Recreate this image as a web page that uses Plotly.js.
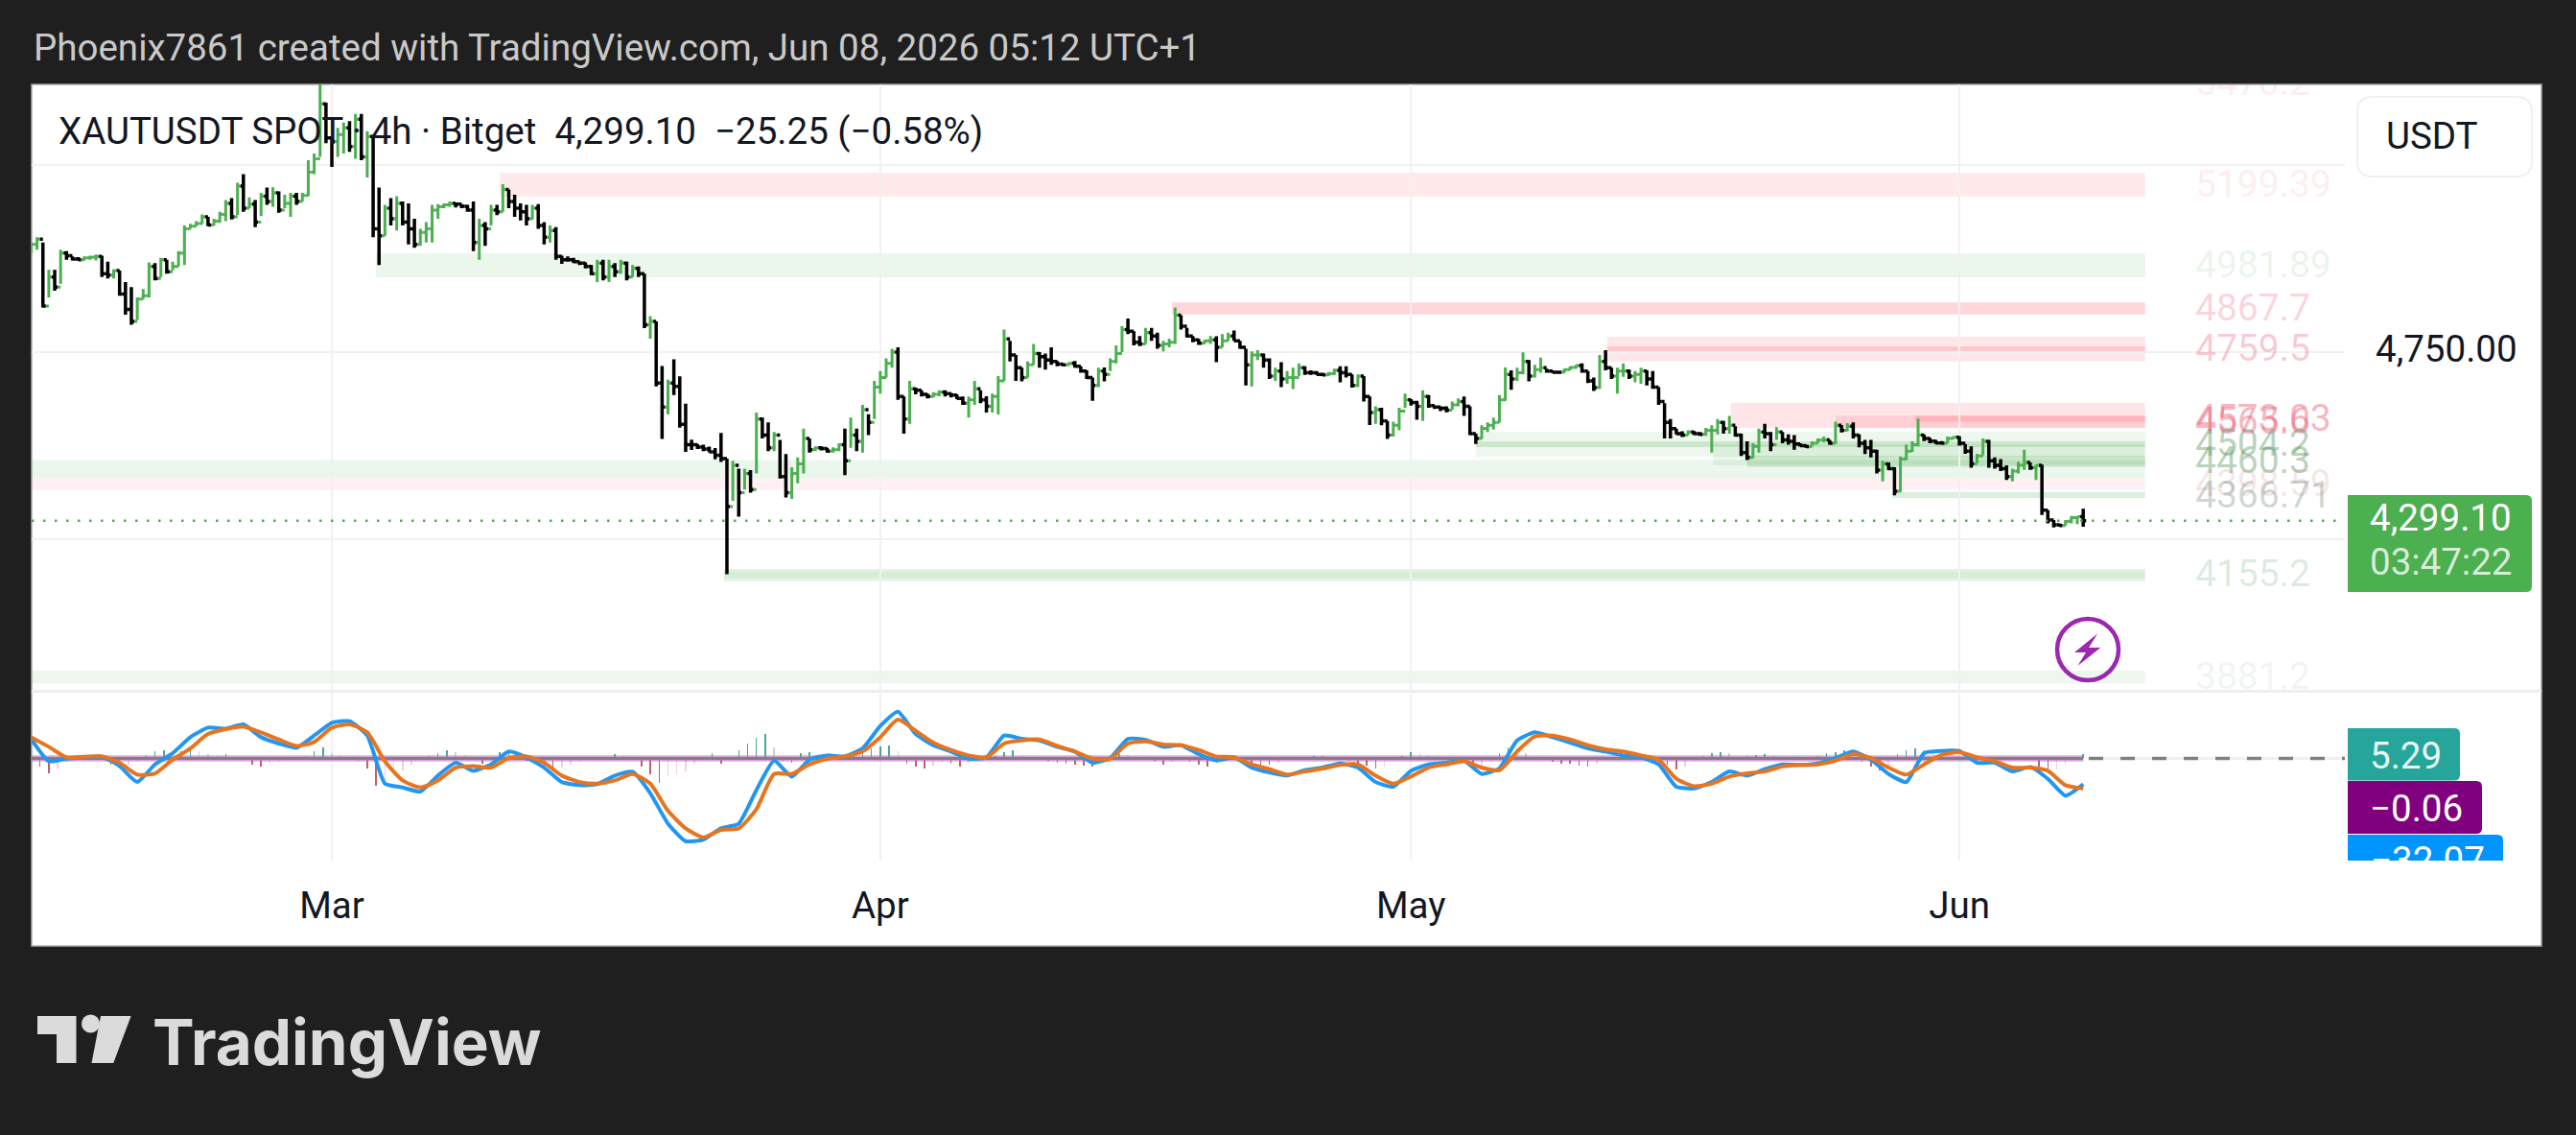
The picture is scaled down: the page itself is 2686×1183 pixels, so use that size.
<!DOCTYPE html>
<html>
<head>
<meta charset="utf-8">
<script src="https://cdn.plot.ly/plotly-3.0.1.min.js"></script>
<style>html,body{margin:0;padding:0;background:#1f1f1f;}#c{width:2686px;height:1183px;}</style>
</head>
<body>
<div id="c"></div>
<script>
// ---- price bars (8-hour steps from 12 Feb 2026) ----
const firstBarTime = Date.UTC(2026,1,12,0,0);
const firstOpen = 5020;
const high = [
5043,5057,5043,4970,4970,5024,5020,5006,5004,5006,
5008,5011,5008,4992,4971,4968,4937,4924,4896,4919,
4990,4988,5002,4997,4992,5020,5089,5093,5100,5118,
5112,5107,5125,5157,5162,5203,5226,5164,5157,5176,
5190,5191,5180,5171,5176,5176,5176,5263,5281,5480,
5417,5327,5350,5364,5368,5387,5387,5341,5327,5190,
5144,5162,5167,5153,5148,5107,5080,5098,5144,5146,
5148,5153,5149,5146,5144,5153,5107,5098,5144,5144,
5199,5185,5171,5148,5144,5144,5146,5098,5089,5084,
5008,5006,5002,4992,4990,4983,4997,4997,4997,4988,
4997,4992,4983,4979,4960,4846,4832,4713,4676,4731,
4685,4612,4516,4504,4502,4497,4493,4534,4465,
4459,4438,4438,4434,4588,4575,4562,4536,4515,4477,
4442,4468,4545,4519,4498,4498,4494,4495,4506,4545,
4575,4545,4609,4584,4673,4699,4733,4759,4763,4631,
4673,4655,4648,4639,4643,4648,4648,4641,4637,4631,
4631,4673,4648,4632,4639,4686,4810,4780,4742,4708,
4725,4772,4750,4746,4763,4726,4720,4723,4726,4712,
4701,4682,4708,4709,4733,4768,4819,4840,4806,4793,
4815,4815,4802,4780,4786,4869,4849,4815,4793,4785,
4783,4793,4792,4798,4802,4808,4780,4759,4752,4755,
4746,4733,4708,4723,4699,4708,4720,4712,4701,4699,
4695,4697,4706,4712,4712,4690,4690,4686,4631,4605,
4601,4566,4564,4601,4639,4624,4620,4648,4635,4607,
4605,4605,4618,4626,4631,4605,4532,4554,4562,4575,
4635,4709,4701,4708,4749,4729,4716,4735,4706,4701,
4699,4706,4712,4716,4720,4699,4682,4742,4755,4708,
4708,4720,4703,4699,4708,4701,4699,4656,4613,4571,
4545,4538,4541,4539,4536,4547,4554,4571,4566,4579,
4552,4532,4511,4506,4545,4558,4536,4549,4536,4530,
4528,4506,4502,4511,4519,4524,4515,4564,4555,4560,
4562,4530,4515,4515,4489,4459,4455,4442,4470,4502,
4511,4572,4530,4521,4515,4512,4524,4525,4525,4504,
4498,4478,4519,4515,4468,4464,4447,4438,4457,4489,
4455,4449,4449,4327,4301,4291,4301,4312,4310,4331];
const low = [
5015,5024,4869,4896,4914,4933,4997,4995,4995,4995,
4997,4995,4951,4947,4947,4901,4850,4823,4836,4892,
4896,4942,4951,4960,4969,4979,4983,5080,5087,5093,
5087,5089,5096,5100,5105,5116,5125,5135,5084,5114,
5144,5139,5123,5135,5112,5144,5153,5167,5226,5272,
5309,5245,5272,5281,5286,5267,5263,5217,5057,4983,
5061,5089,5075,5089,5038,5029,5034,5043,5043,5107,
5135,5139,5137,5135,5125,5020,4997,5034,5089,5116,
5125,5135,5112,5102,5089,5105,5080,5038,5043,4997,
4986,4992,4988,4983,4974,4956,4937,4942,4937,4951,
4960,4942,4951,4951,4814,4786,4658,4518,4584,4635,
4548,4483,4488,4491,4485,4482,4463,4456,4156,
4352,4310,4382,4374,4425,4519,4485,4485,4412,4361,
4357,4399,4425,4481,4485,4487,4481,4481,4485,4421,
4494,4485,4481,4528,4571,4639,4682,4708,4622,4532,
4558,4637,4631,4626,4629,4632,4631,4629,4624,4609,
4575,4609,4613,4588,4588,4583,4673,4725,4673,4672,
4682,4716,4708,4703,4716,4712,4712,4714,4708,4695,
4678,4620,4656,4672,4699,4720,4750,4798,4768,4766,
4772,4780,4759,4752,4763,4772,4810,4789,4776,4769,
4772,4772,4723,4763,4780,4780,4759,4661,4658,4729,
4708,4678,4673,4656,4665,4651,4686,4689,4689,4689,
4686,4686,4689,4669,4682,4655,4656,4618,4555,4558,
4554,4518,4524,4541,4601,4607,4569,4566,4601,4598,
4592,4589,4596,4605,4579,4528,4504,4518,4536,4543,
4562,4620,4649,4673,4690,4672,4682,4695,4695,4694,
4693,4694,4702,4706,4695,4667,4646,4652,4701,4678,
4639,4684,4678,4669,4665,4661,4652,4609,4519,4519,
4530,4523,4528,4528,4526,4526,4481,4530,4532,4532,
4524,4472,4461,4466,4481,4519,4485,4515,4506,4502,
4489,4497,4494,4497,4506,4509,4502,4504,4535,4538,
4519,4495,4477,4468,4425,4404,4434,4367,4376,4461,
4483,4498,4512,4506,4504,4504,4506,4518,4500,4478,
4441,4453,4474,4441,4438,4432,4408,4404,4425,4435,
4435,4408,4314,4292,4281,4283,4286,4292,4290,4283];
const close = [
5038,5052,4873,4951,4924,5015,5008,4999,4997,5002,
5004,5006,4960,4956,4968,4905,4864,4832,4892,4901,
4979,4947,4997,4965,4979,5015,5080,5087,5094,5112,
5090,5100,5118,5148,5112,5194,5135,5146,5098,5167,
5153,5176,5130,5148,5167,5153,5169,5231,5267,5414,
5323,5313,5332,5350,5300,5373,5272,5327,5080,5061,
5135,5107,5148,5098,5080,5038,5070,5080,5130,5139,
5144,5148,5146,5140,5130,5043,5089,5080,5130,5125,
5185,5153,5135,5125,5107,5135,5089,5057,5075,5006,
4997,4997,4992,4988,4979,4960,4988,4951,4979,4965,
4988,4951,4974,4960,4823,4832,4667,4603,4667,4658,
4557,4502,4502,4496,4491,4483,4474,4465,4337,
4447,4374,4425,4382,4571,4528,4494,4528,4417,4374,
4425,4451,4519,4489,4494,4492,4485,4489,4502,4459,
4528,4511,4596,4562,4656,4682,4720,4750,4631,4571,
4652,4648,4637,4631,4637,4643,4639,4635,4626,4613,
4622,4652,4622,4605,4631,4673,4785,4742,4708,4682,
4716,4746,4738,4729,4725,4718,4716,4720,4712,4699,
4682,4661,4699,4690,4725,4746,4810,4806,4776,4772,
4802,4793,4768,4772,4776,4849,4819,4793,4783,4774,
4780,4783,4763,4780,4793,4780,4763,4716,4742,4742,
4729,4686,4699,4678,4682,4682,4708,4695,4695,4690,
4689,4692,4701,4695,4690,4661,4686,4631,4588,4596,
4566,4528,4554,4592,4622,4615,4605,4631,4607,4603,
4600,4595,4609,4618,4605,4532,4519,4545,4554,4562,
4622,4690,4678,4695,4725,4686,4703,4708,4699,4696,
4696,4703,4709,4714,4699,4673,4655,4725,4708,4686,
4699,4699,4686,4690,4699,4678,4656,4618,4562,4545,
4532,4528,4536,4532,4530,4541,4541,4562,4545,4554,
4528,4481,4468,4498,4536,4532,4502,4536,4515,4511,
4504,4500,4497,4506,4515,4515,4506,4554,4541,4552,
4528,4506,4494,4485,4434,4451,4438,4378,4464,4485,
4502,4528,4519,4512,4507,4506,4519,4522,4506,4485,
4451,4472,4511,4459,4447,4438,4417,4432,4447,4455,
4441,4447,4327,4301,4288,4286,4297,4307,4310,4299.1];

// ---- MACD pane: lines read daily, histogram read every 12 hours ----
const macdBlue = [
24.3,-3.5,-0.3,1.3,2.1,-9.4,-29.3,-7.4,6.5,26.3,38.2,37,42.2,26.3,18.4,13.2,28.3,44.2,46.2,28.3,
-31.3,-36,-41.2,-21.3,-5.4,-15.4,-7.4,8.5,1.3,-11.4,-29.3,-33.2,-32,-21.3,-16.6,-43.2,-80.9,-102.7,-100.7,-86.8,
-80.9,-39.2,-2.7,-22.5,-1.5,3.7,2.5,12.4,40.2,58.1,30.3,16.4,8.5,-0.3,1.3,28.3,24.3,22.3,14.4,8.5,
-5.4,0.5,24.3,23.1,14.4,16.4,5.3,-2.7,1.3,-11.4,-17.4,-21.3,-14.6,-11.4,-6.2,-11.4,-29.3,-35.2,-15.4,-7.4,
-5.4,-2.7,-19.3,-12.2,22.3,32.3,26.3,19.6,12.4,8.5,3.7,1.3,-7.4,-35.2,-37.2,-29.3,-16.2,-21.3,-13.4,-7.4,
-8.2,-6.2,0.5,8.5,-1.5,-19.3,-29.3,6.5,9.3,9.3,-5.4,-5.4,-16.2,-10.6,-25.3,-46.3,-32.07];
const macdOrange = [
26.3,14.4,1.3,2.1,2.5,-5.4,-20.1,-18.5,-1.5,12.4,30.3,36.2,39.4,32.3,23.5,15.6,20.4,38.2,42.2,32.3,
-3.5,-27.3,-36,-27.3,-11.4,-9.4,-11.4,0.5,2.5,-5.4,-21.3,-29.3,-31.3,-27.3,-19.3,-31.3,-65,-86.8,-97.9,-88.8,
-86.8,-63,-19.3,-19.3,-7.4,-0.3,2.5,8.5,26.3,48.2,34.3,19.6,10.4,3.7,1.3,18.4,22.3,23.5,15.6,8.5,
-0.3,-0.3,18.4,21.2,17.2,16.4,10.4,2.5,1.3,-7.4,-13.4,-20.1,-16.2,-12.6,-8.2,-7.4,-21.3,-31.3,-22.5,-11.4,
-7.4,-3.5,-11.4,-14.6,8.5,27.1,28.3,23.5,16.4,11.2,8.5,3.7,-1.5,-25.3,-34.4,-31.3,-22.5,-18.5,-16.2,-9.8,
-8.2,-7.4,-2.7,5.3,0.5,-11.4,-20.1,-7.4,4.5,7.7,1.3,-3.5,-11.4,-11.4,-15.4,-33.2,-37.36];
const hist = [
-5,-10,-18,-12,-5,-1,1,1,-2,-8,-12,-8,-3,4,9,10,6,9,12,9,
5,3,5,3,-2,-8,-10,-8,-5,-1,1,3,9,14,6,3,2,-3,-12,-34,
-30,-22,-15,-8,-2,3,7,10,8,4,-1,-6,-2,8,10,4,-3,-5,-10,-14,
-11,-8,-4,-1,1,2,5,4,3,-10,-20,-30,-22,-20,-16,-6,2,6,-6,1,
10,18,26,30,14,-3,-5,6,8,5,3,2,3,6,10,12,15,16,9,-6,
-10,-12,-9,-5,-6,-10,-5,-1,0,3,8,10,4,2,0,-3,-5,-7,-8,-9,
-10,-4,2,5,4,1,-1,-3,-8,-4,-1,-4,-8,-10,-7,-2,-1,-3,-6,-8,
-8,-5,-2,1,2,3,3,2,1,-3,-6,-9,-12,-10,-3,3,8,7,4,2,
1,0,-3,-12,-10,-3,6,14,12,6,2,-2,-4,-6,-7,-9,-10,-6,-2,1,
2,1,1,-1,-3,-8,-14,-10,-4,3,6,8,7,3,3,4,5,4,3,1,
0,1,3,6,8,10,8,-4,-10,-15,-10,5,10,12,10,6,4,2,1,-2,
-6,-8,-6,-2,-1,1,1,-10,-18,-14,-8,-2,5.29];
const zeroLevel = -0.06;

// ---- supply / demand zones ----
const zoneStart = ["2026-03-10T12:00","2026-03-03T12:00","2026-04-17T12:00","2026-05-12T02:00","2026-05-12T02:00",
"2026-05-19T02:00","2026-05-25T00:00","2026-05-29T12:00","2026-05-04T16:00","2026-05-04T16:00",
"2026-05-18T02:00","2026-05-20T00:00","2026-02-12T00:00","2026-02-12T00:00","2026-05-28T05:00",
"2026-03-23T04:00","2026-03-23T04:00","2026-02-12T00:00"];
const zoneTop = [5230,5014,4883,4791,4765,4614,4580,4580,4537,4511,4503,4473,4461,4412,4376,4170,4162,3898];
const zoneBottom = [5166,4951,4851,4725,4751,4547,4547,4564,4470,4496,4447,4443,4412,4381,4360,4137,4146,3864];
const zoneKind = ["r","g","r","r","r","r","r","r","g","g","g","g","g","r","g","g","g","g"];
const zoneAlpha = [.13,.11,.24,.14,.22,.15,.15,.22,.10,.22,.10,.22,.11,.08,.20,.16,.08,.10];
const zoneEnd = "2026-06-11T12:00";

const levelLabels = ["5470.2","5199.39","4981.89","4867.7","4759.5","4573.03","4565.6","4504.2","4460.3","4398.59","4366.71","4155.2","3881.2"];
const levelPrices = [5470.2,5199.39,4981.89,4867.7,4759.5,4573.03,4565.6,4504.2,4460.3,4398.59,4366.71,4155.2,3881.2];
const levelColors = ["rgba(240,120,130,.13)","rgba(240,120,130,.14)","rgba(100,170,110,.13)","rgba(235,90,115,.27)","rgba(235,90,115,.33)",
"rgba(235,80,105,.42)","rgba(235,80,105,.42)","rgba(70,140,80,.38)","rgba(70,140,80,.38)","rgba(200,130,130,.20)","rgba(90,110,95,.28)","rgba(70,150,100,.20)","rgba(100,150,110,.10)"];

const lastPrice = 4299.10;
const monthTicks = ["2026-03-01","2026-04-01","2026-05-01","2026-06-01"];
const monthNames = ["Mar","Apr","May","Jun"];
const priceTicks = [5250,4750,4250];
const priceTickText = ["","",""];

// ---- layout helpers ----
const W = 2686, H = 1183;
const X = x => x / W, Y = y => 1 - y / H;
const iso = ms => new Date(ms).toISOString().slice(0,16);
const barTimes = close.map((_, i) => iso(firstBarTime + i * 8 * 3600e3));
const dayTimes = macdBlue.map((_, i) => iso(firstBarTime + i * 24 * 3600e3));
const histTimes = hist.map((_, i) => iso(firstBarTime + i * 12 * 3600e3));
const open = close.map((_, i) => i ? close[i - 1] : firstOpen);
const histColor = hist.map((v, i) => {
  const p = i ? hist[i - 1] : 0;
  return v >= 0 ? (v >= p ? "#1f8f83" : "#a5d6d0") : (v <= p ? "#b03a48" : "#f6c3cc");
});
function rrect(x0, y0, x1, y1, rL, rR, bottomSquare) {
  const f = (x, y) => X(x) + "," + Y(y);
  const rb = bottomSquare ? 0 : rR;
  return "M" + f(x0 + rL, y0) + " L" + f(x1 - rR, y0) + " Q" + f(x1, y0) + " " + f(x1, y0 + rR) +
    " L" + f(x1, y1 - rb) + " Q" + f(x1, y1) + " " + f(x1 - rb, y1) +
    " L" + f(x0 + rL, y1) + " Q" + f(x0, y1) + " " + f(x0, y1 - rL) +
    " L" + f(x0, y0 + rL) + " Q" + f(x0, y0) + " " + f(x0 + rL, y0) + " Z";
}
function poly(pts) {
  return "M" + pts.map(p => X(p[0]) + "," + Y(p[1])).join(" L") + " Z";
}
const pathShape = (path, fill, layer, lineColor) => ({type:"path", xref:"paper", yref:"paper", path, fillcolor:fill,
  line:{width:lineColor?2:0, color:lineColor||fill}, layer:layer||"below"});

const shapes = [];
shapes.push({type:"rect", xref:"paper", yref:"paper", x0:X(33), x1:X(2650), y0:Y(88), y1:Y(986), fillcolor:"#ffffff",
  line:{color:"#a8a8a8", width:1.5}, layer:"below"});
zoneStart.forEach((s, i) => {
  const c = zoneKind[i] === "r" ? "255,82,100" : "76,175,80";
  shapes.push({type:"rect", xref:"x", yref:"y", x0:s, x1:zoneEnd, y0:zoneBottom[i], y1:zoneTop[i],
    fillcolor:"rgba(" + c + "," + zoneAlpha[i] + ")", line:{width:0}, layer:"below"});
});
// pane divider
shapes.push({type:"line", xref:"paper", yref:"paper", x0:X(33), x1:X(2650), y0:Y(720.5), y1:Y(720.5), line:{color:"#eeeeee", width:3}, layer:"below"});
// last price dotted line
shapes.push({type:"line", xref:"paper", yref:"y", x0:X(33), x1:X(2436), y0:lastPrice, y1:lastPrice, line:{color:"#4caf50", width:2.5, dash:"2.5px,9.5px"}, layer:"above"});
// zero line extension
shapes.push({type:"line", xref:"paper", yref:"y2", x0:X(2177), x1:X(2445), y0:zeroLevel, y1:zeroLevel, line:{color:"#f0f0f0", width:3}, layer:"below"});
shapes.push({type:"line", xref:"paper", yref:"y2", x0:X(2178), x1:X(2445), y0:zeroLevel, y1:zeroLevel, line:{color:"#808080", width:3.5, dash:"15px,18px"}, layer:"above"});
// USDT button
shapes.push(pathShape(rrect(2458,101,2640,184,16,16), "#ffffff", "below", "#f0f0f0"));
// price tag + axis tags
shapes.push(pathShape(rrect(2448,516,2640,617,0,6), "#4caf50"));
shapes.push(pathShape(rrect(2448,759,2565,813.5,0,6), "#26a69a"));
shapes.push(pathShape(rrect(2448,814,2588,869,0,6), "#800080"));
shapes.push(pathShape(rrect(2448,870,2610,897,0,6,true), "#0094ff"));
// lightning badge
shapes.push({type:"circle", xref:"paper", yref:"paper", x0:X(2145), x1:X(2209), y0:Y(709), y1:Y(645), line:{color:"#9c27b0", width:4.5}, fillcolor:"rgba(255,255,255,0)", layer:"above"});
shapes.push(pathShape(poly([[2187,660.4],[2163,680],[2175,680],[2166.4,694],[2190.3,675],[2178,675]]), "#9c27b0", "above"));
// logo mark
shapes.push(pathShape(poly([[39,1059],[79.5,1059],[79.5,1108],[59,1108],[59,1078],[39,1078]]), "#dbdbdb"));
shapes.push({type:"circle", xref:"paper", yref:"paper", x0:X(85), x1:X(104), y0:Y(1076.5), y1:Y(1057.5), fillcolor:"#dbdbdb", line:{width:0}, layer:"below"});
shapes.push(pathShape(poly([[105,1059],[136.6,1059],[118.3,1108],[95.5,1108]]), "#dbdbdb"));

const ann = (text, x, y, size, color, xanchor, extra) => Object.assign({text, xref:"paper", yref:"paper", x:X(x), y:Y(y), showarrow:false,
  xanchor:xanchor||"left", yanchor:"middle", font:{family:"Roboto", size, color}, align:"left"}, extra||{});
const NB = "\u00a0";
const annotations = [
  ann("Phoenix7861 created with TradingView.com, Jun 08, 2026 05:12 UTC+1", 33, 50, 38.5, "#c9c9c9"),
  ann("XAUTUSDT SPOT · 4h · Bitget" + NB + NB + "4,299.10" + NB + NB + "−25.25 (−0.58%)", 59, 137, 38.5, "#131722"),
  ann("USDT", 2536, 141, 38.5, "#131722", "center"),
  ann("4,750.00", 2475, 363.5, 38.5, "#131722"),
  ann("4,299.10", 2621, 539, 38.5, "#ffffff", "right"),
  ann("03:47:22", 2621, 585, 38.5, "rgba(255,255,255,.78)", "right"),
  ann("5.29", 2548, 787, 38.5, "#e8f6f5", "right"),
  ann("−0.06", 2570, 842, 38.5, "#ffffff", "right"),
  ann("TradingView", 157, 1086, 65.5, "#dbdbdb", "left", {font:{family:"Inter", size:65.5, color:"#dbdbdb", weight:700}})
];

const traces = [
  {type:"bar", x:histTimes, y:hist, yaxis:"y2", xaxis:"x", width:2*3600e3, marker:{color:histColor, line:{width:0}}, opacity:.8, hoverinfo:"skip"},
  {type:"scatter", mode:"lines", x:[dayTimes[0], dayTimes[dayTimes.length-1]], y:[zeroLevel, zeroLevel], yaxis:"y2", line:{color:"rgba(230,90,230,.45)", width:7}, hoverinfo:"skip"},
  {type:"scatter", mode:"lines", x:[dayTimes[0], dayTimes[dayTimes.length-1]], y:[zeroLevel, zeroLevel], yaxis:"y2", line:{color:"#808080", width:3.5}, hoverinfo:"skip"},
  {type:"scatter", mode:"lines", x:dayTimes, y:macdBlue, yaxis:"y2", line:{color:"#2196f3", width:4, shape:"spline", smoothing:.5}, hoverinfo:"skip"},
  {type:"scatter", mode:"lines", x:dayTimes, y:macdOrange, yaxis:"y2", line:{color:"#e8741e", width:4, shape:"spline", smoothing:.6}, hoverinfo:"skip"},
  {type:"ohlc", x:barTimes, open, high, low, close, xaxis:"x", yaxis:"y", tickwidth:.5,
    increasing:{line:{color:"#4caf50", width:3}}, decreasing:{line:{color:"#000000", width:3.5}}, hoverinfo:"skip"},
  {type:"scatter", mode:"text", x:levelPrices.map(() => "2026-06-14T08:00"), y:levelPrices.map(p => p - 7.5), text:levelLabels, xaxis:"x", yaxis:"y", cliponaxis:true,
    textposition:"middle right", textfont:{family:"Roboto", size:39, color:levelColors}, hoverinfo:"skip"},
  {type:"scatter", mode:"text", x:[0.6], y:[-0.02], text:["−32.07"], xaxis:"x3", yaxis:"y3", cliponaxis:true,
    textposition:"middle left", textfont:{family:"Roboto", size:38.5, color:"#ffffff"}, hoverinfo:"skip"}
];

const layout = {
  width:W, height:H, autosize:false, showlegend:false, margin:{l:0,r:0,t:0,b:0,pad:0},
  paper_bgcolor:"#1f1f1f", plot_bgcolor:"rgba(0,0,0,0)", bargap:0, shapes, annotations,
  xaxis:{type:"date", domain:[X(33), X(2445)], range:["2026-02-12T00:43","2026-06-22T19:00"], anchor:"y2",
    rangeslider:{visible:false}, tickmode:"array", tickvals:monthTicks, ticktext:monthNames,
    showgrid:true, gridcolor:"#f1f1f1", gridwidth:2, zeroline:false, showline:false,
    ticks:"outside", ticklen:13, tickcolor:"rgba(0,0,0,0)", tickfont:{family:"Roboto", size:38.5, color:"#131722"}},
  yaxis:{domain:[Y(720), Y(88)], range:[3844,5466], side:"right", anchor:"x", tickmode:"array", tickvals:priceTicks, ticktext:priceTickText,
    showgrid:true, gridcolor:"#f1f1f1", gridwidth:2, zeroline:false, showline:false, ticks:""},
  yaxis2:{domain:[Y(897), Y(720)], range:[-126.8,83.9], side:"right", anchor:"x", showgrid:false, zeroline:false, showline:false, showticklabels:false, ticks:""},
  xaxis3:{domain:[X(2448), 1], range:[0,1], anchor:"y3", visible:false},
  yaxis3:{domain:[Y(897), Y(720)], range:[0,1], anchor:"x3", visible:false}
};
Plotly.newPlot("c", traces, layout, {staticPlot:true, displayModeBar:false});
</script>
</body>
</html>
